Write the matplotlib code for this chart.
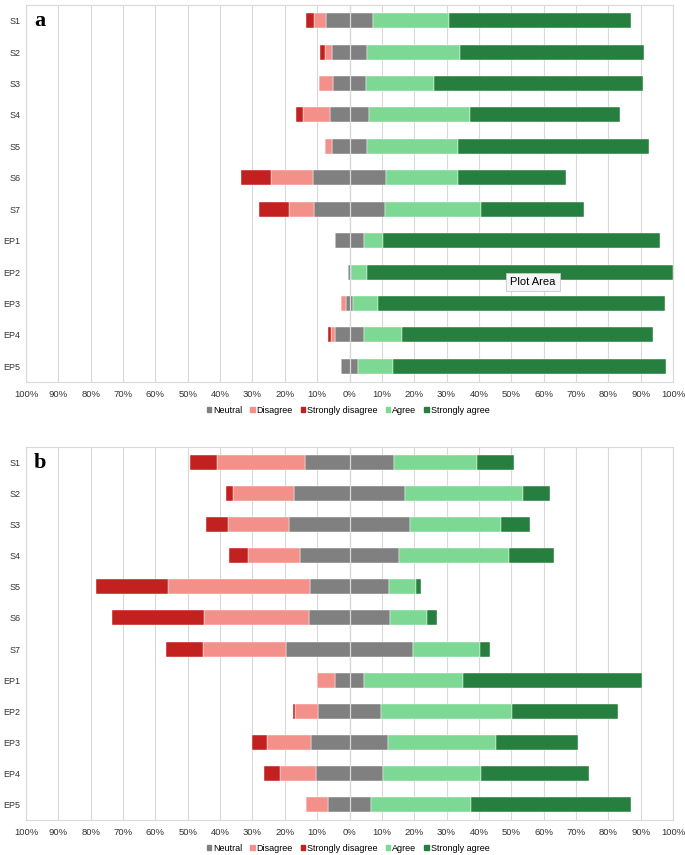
import matplotlib
matplotlib.use("Agg")
import matplotlib.pyplot as plt
from matplotlib.patches import Patch

plt.rcParams["font.family"] = ["Liberation Sans", "DejaVu Sans"]

# Likert item labels (top to bottom)
items = ["S1", "S2", "S3", "S4", "S5", "S6", "S7", "EP1", "EP2", "EP3", "EP4", "EP5"]

# Panel a, percentages per item
a_strongly_disagree = [2.4, 1.5, 0.0, 2.1, 0.0, 9.1, 9.2, 0.0, 0.0, 0.0, 0.9, 0.0]
a_disagree = [3.7, 2.2, 4.5, 8.3, 2.2, 13.0, 7.6, 0.0, 0.0, 1.5, 1.4, 0.0]
a_neutral = [14.6, 10.8, 10.1, 12.3, 10.8, 22.7, 22.1, 8.7, 0.8, 2.4, 8.7, 5.4]
a_agree = [23.5, 28.8, 21.0, 31.1, 28.0, 22.1, 29.5, 6.1, 4.9, 7.7, 11.9, 10.7]
a_strongly_agree = [56.2, 56.8, 64.7, 46.3, 59.3, 33.4, 31.9, 85.6, 94.6, 88.7, 77.5, 84.3]

# Panel b, percentages per item
b_strongly_disagree = [8.5, 2.3, 6.9, 5.9, 22.3, 28.3, 11.5, 0.0, 0.8, 4.5, 4.8, 0.0]
b_disagree = [27.2, 18.7, 18.9, 16.1, 44.0, 32.5, 25.6, 5.4, 6.9, 13.7, 11.1, 6.8]
b_neutral = [27.5, 34.4, 37.2, 30.3, 24.2, 25.2, 39.5, 9.1, 19.7, 23.8, 20.8, 13.0]
b_agree = [25.7, 36.4, 28.2, 34.3, 8.4, 11.3, 20.6, 30.6, 40.4, 33.4, 30.3, 31.0]
b_strongly_agree = [11.5, 8.3, 9.1, 13.8, 1.5, 3.0, 3.0, 55.2, 32.7, 25.2, 33.4, 49.5]

x_ticks = list(range(-100, 101, 10))

colors = {
    "Neutral": "#808080",
    "Disagree": "#f4908a",
    "Strongly disagree": "#c3211f",
    "Agree": "#7cd893",
    "Strongly agree": "#277f3f",
}


def draw_panel(ax, sd, d, n, a, sa, letter):
    y = list(range(len(items)))
    half = [v / 2 for v in n]
    bh = 0.48
    kw = dict(height=bh, edgecolor="white", linewidth=0.3, zorder=2)

    # neutral is centred on zero
    ax.barh(y, n, left=[-h for h in half], color=colors["Neutral"], **kw)
    d_left = [-h - dv for h, dv in zip(half, d)]
    ax.barh(y, d, left=d_left, color=colors["Disagree"], **kw)
    sd_left = [l - s for l, s in zip(d_left, sd)]
    ax.barh(y, sd, left=sd_left, color=colors["Strongly disagree"], **kw)
    ax.barh(y, a, left=half, color=colors["Agree"], **kw)
    sa_left = [h + av for h, av in zip(half, a)]
    ax.barh(y, sa, left=sa_left, color=colors["Strongly agree"], **kw)

    ax.set_xlim(-100, 100)
    ax.set_ylim(len(items) - 0.5, -0.5)
    ax.set_yticks(y)
    ax.set_yticklabels(items, fontsize=6.5)
    ax.set_xticks(x_ticks)
    ax.set_xticklabels([f"{abs(t)}%" for t in x_ticks], fontsize=6.8)
    ax.tick_params(axis="x", length=0, pad=6, colors="#333333")
    ax.tick_params(axis="y", length=0, pad=4, colors="#333333")
    ax.grid(axis="x", color="#d9d9d9", linewidth=0.8, zorder=0)
    ax.set_axisbelow(True)
    ax.axvline(0, color="#d9d9d9", linewidth=0.9, zorder=3)
    for s in ax.spines.values():
        s.set_color("#d9d9d9")
        s.set_linewidth(0.8)

    ax.text(-97.6, 0, letter, fontsize=16, fontweight="bold",
            family="Liberation Serif", va="center", ha="left")


fig = plt.figure(figsize=(6.85, 8.55), dpi=100)
ax_a = fig.add_axes([26 / 685, 1 - 382 / 855, 647 / 685, 377 / 855])
ax_b = fig.add_axes([26 / 685, 1 - 820 / 855, 647 / 685, 373 / 855])

draw_panel(ax_a, a_strongly_disagree, a_disagree, a_neutral, a_agree, a_strongly_agree, "a")
draw_panel(ax_b, b_strongly_disagree, b_disagree, b_neutral, b_agree, b_strongly_agree, "b")

handles = [Patch(color=c, label=k) for k, c in colors.items()]
for yy in (410, 848):
    fig.legend(handles=handles, loc="center", bbox_to_anchor=(348 / 685, 1 - yy / 855),
               ncol=5, frameon=False, fontsize=6.5, handlelength=0.5, handleheight=0.5,
               handletextpad=0.2, columnspacing=0.9, borderaxespad=0)

# leftover Excel tooltip from the screenshot
fig.text(533 / 685, 1 - 282 / 855, "Plot Area", fontsize=8, ha="center", va="center",
         bbox=dict(boxstyle="square,pad=0.35", fc="#f6f6f6", ec="#c8c8c8", lw=0.6), zorder=5)

fig.savefig("out.png", dpi=100)
